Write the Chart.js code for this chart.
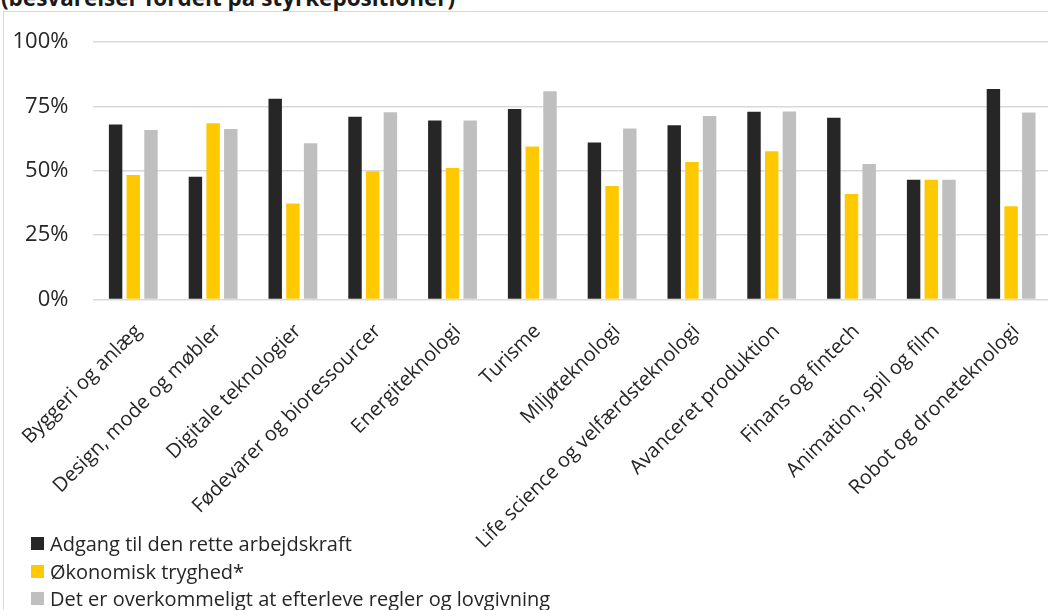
<!DOCTYPE html>
<html>
<head>
<meta charset="utf-8">
<script src="https://cdn.jsdelivr.net/npm/chart.js@4"></script>
<style>
  body { margin: 0; width: 1048px; height: 610px; overflow: hidden; background: #fff; position: relative; font-family: 'Open Sans', sans-serif; }
  #title { position: absolute; left: 1px; top: -16.5px; font-size: 22.5px; font-weight: bold; color: #1a1a1a; white-space: nowrap; line-height: 27px; }
  #frame { position: absolute; left: 3px; top: 11px; width: 1100px; height: 700px; border: 1px solid #d9d9d9; }
  #chartBox { position: absolute; left: 4px; top: 4px; width: 1047px; height: 606px; }
  #legend { position: absolute; left: 31px; top: 530px; font-size: 20px; color: #262626; }
  #legend div { height: 27.5px; line-height: 27.5px; display: flex; align-items: center; white-space: nowrap; }
  #legend span.box { display: inline-block; width: 13px; height: 13px; margin-right: 6px; }
</style>
</head>
<body>
<div id="title">(besvarelser fordelt på styrkepositioner)</div>
<div id="frame"></div>
<div id="chartBox"><canvas id="chartContainer" width="1047" height="606"></canvas></div>
<div id="legend"></div>
<script>
"use strict";

// categories (styrkepositioner)
const categories = [
  "Byggeri og anlæg",
  "Design, mode og møbler",
  "Digitale teknologier",
  "Fødevarer og bioressourcer",
  "Energiteknologi",
  "Turisme",
  "Miljøteknologi",
  "Life science og velfærdsteknologi",
  "Avanceret produktion",
  "Finans og fintech",
  "Animation, spil og film",
  "Robot og droneteknologi"
];

// series values in percent
const adgang = [68, 47.7, 78, 71, 69.6, 74, 61, 67.7, 73, 70.6, 46.5, 81.8];
const oekonomi = [48.4, 68.5, 37.3, 49.8, 51.1, 59.5, 44.1, 53.4, 57.6, 41, 46.5, 36.2];
const regler = [65.9, 66.3, 60.7, 72.8, 69.6, 80.9, 66.5, 71.3, 73.1, 52.7, 46.5, 72.7];

const seriesNames = [
  "Adgang til den rette arbejdskraft",
  "Økonomisk tryghed*",
  "Det er overkommeligt at efterleve regler og lovgivning"
];

// y-axis ticks
const yTicks = [0, 25, 50, 75, 100];

Chart.defaults.font.family = "'Open Sans', sans-serif";
Chart.defaults.color = "#404040";

function makeDataset(label, values, color) {
  return {
    label: label,
    data: values,
    backgroundColor: color,
    categoryPercentage: 0.665,
    barPercentage: 0.76
  };
}

let chartContainer = document.getElementById('chartContainer');
let chart = new Chart(chartContainer, {
  type: 'bar',
  data: {
    labels: categories,
    datasets: [
      makeDataset(seriesNames[0], adgang, '#262626'),
      makeDataset(seriesNames[1], oekonomi, '#ffc900'),
      makeDataset(seriesNames[2], regler, '#bfbfbf')
    ]
  },
  options: {
    responsive: false,
    animation: false,
    layout: { padding: { top: 19.5, left: 0, right: 0, bottom: 0 } },
    plugins: {
      legend: { display: false },
      tooltip: { enabled: false }
    },
    scales: {
      x: {
        grid: { display: false },
        border: { display: false },
        ticks: {
          minRotation: 45,
          maxRotation: 45,
          autoSkip: false,
          padding: 12,
          labelOffset: 5,
          color: '#262626',
          font: { size: 20 }
        },
        afterFit(scale) { scale.height = 310.5; }
      },
      y: {
        min: 0,
        max: 100,
        afterBuildTicks(scale) { scale.ticks = yTicks.map(v => ({ value: v })); },
        grid: { color: '#d9d9d9', lineWidth: 1.5, drawTicks: false },
        border: { display: false },
        ticks: {
          padding: 25,
          color: '#262626',
          font: { size: 22 },
          callback: v => v + '%'
        },
        afterFit(scale) { scale.width = 89.4; }
      }
    }
  }
});

// legend: one item per line, as in the original
let legend = document.getElementById('legend');
for (const ds of chart.data.datasets) {
  let row = document.createElement('div');
  let box = document.createElement('span');
  box.className = 'box';
  box.style.background = ds.backgroundColor;
  row.appendChild(box);
  row.appendChild(document.createTextNode(ds.label));
  legend.appendChild(row);
}
</script>
</body>
</html>
